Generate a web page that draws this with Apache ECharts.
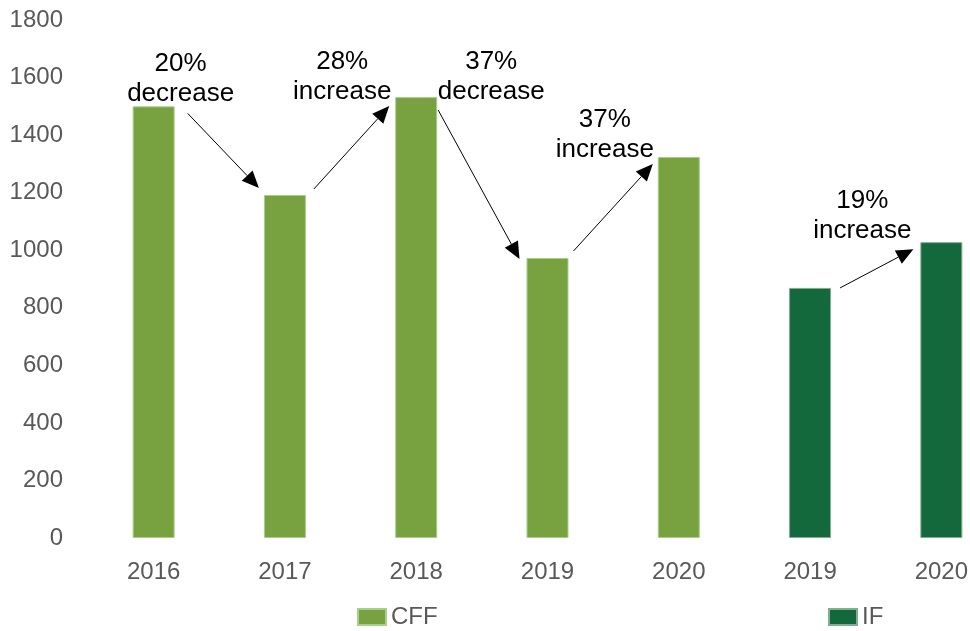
<!DOCTYPE html>
<html>
<head>
<meta charset="utf-8">
<script src="https://cdn.jsdelivr.net/npm/echarts@6/dist/echarts.min.js"></script>
<style>html,body{margin:0;padding:0;background:#fff}#c{width:970px;height:631px}</style>
</head>
<body>
<div id="c"></div>
<script>
const categories = ['2016', '2017', '2018', '2019', '2020', '2019', '2020'];
const cffValues = [1500, 1192, 1532, 973, 1324, null, null];
const ifValues = [null, null, null, null, null, 869, 1028];
const yTicks = { min: 0, max: 1800, interval: 200 };
const changeLabels = ['20%\ndecrease', '28%\nincrease', '37%\ndecrease', '37%\nincrease', '19%\nincrease'];
const changePairs = [[0, 1], [1, 2], [2, 3], [3, 4], [5, 6]];

// pixel offsets (styling) relative to bar-top centers
const arrowStyle = [
  { s: [34, 7], e: [-26, -7], t: [27, -28], tb: 0 },
  { s: [29, -6], e: [-27, 9], t: [-74, -20], tb: 1 },
  { s: [22, 13], e: [-28, 1], t: [75, -20], tb: 0 },
  { s: [26, -7], e: [-26, 7], t: [-74, -22], tb: 1 },
  { s: [30, 0], e: [-28, 7], t: [-79, -26], tb: 1 }
];

const chart = echarts.init(document.getElementById('c'));
const font = '"Liberation Sans", Arial, sans-serif';
chart.setOption({
  animation: false,
  grid: { left: 88, right: -37, top: 20, bottom: 93, containLabel: false, outerBoundsMode: 'none' },
  legend: [
    { data: ['CFF'], left: 352, top: 600, itemWidth: 28, itemHeight: 16, icon: 'rect', itemGap: 8,
      textStyle: { fontSize: 24, color: '#595959', fontFamily: font } },
    { data: ['IF'], left: 823, top: 600, itemWidth: 28, itemHeight: 16, icon: 'rect',
      textStyle: { fontSize: 24, color: '#595959', fontFamily: font } }
  ],
  xAxis: {
    type: 'category', data: categories,
    axisLine: { show: false }, axisTick: { show: false },
    axisLabel: { fontSize: 24, color: '#595959', fontFamily: font, margin: 22 }
  },
  yAxis: {
    type: 'value', min: yTicks.min, max: yTicks.max, interval: yTicks.interval,
    splitLine: { show: false }, axisLine: { show: false }, axisTick: { show: false },
    axisLabel: { fontSize: 24, color: '#595959', fontFamily: font, margin: 25,
      formatter: v => String(v) }
  },
  series: [
    { name: 'CFF', type: 'bar', data: cffValues, barWidth: 42, barGap: '-100%',
      itemStyle: { color: '#78a240', borderColor: '#a9cf8a', borderWidth: 1 } },
    { name: 'IF', type: 'bar', data: ifValues, barWidth: 42, barGap: '-100%',
      itemStyle: { color: '#13683c', borderColor: '#7fae92', borderWidth: 1 } }
  ]
});

function barTop(i) {
  const v = cffValues[i] != null ? cffValues[i] : ifValues[i];
  return chart.convertToPixel({ xAxisIndex: 0, yAxisIndex: 0 }, [i, v]);
}

const graphics = [];
changePairs.forEach((pair, k) => {
  const st = arrowStyle[k];
  const a = barTop(pair[0]);
  const b = barTop(pair[1]);
  const x1 = a[0] + st.s[0], y1 = a[1] + st.s[1];
  const x2 = b[0] + st.e[0], y2 = b[1] + st.e[1];
  const dx = x2 - x1, dy = y2 - y1;
  const len = Math.sqrt(dx * dx + dy * dy);
  const ux = dx / len, uy = dy / len;
  const hl = 17, hw = 7.5;
  const bx = x2 - ux * hl, by = y2 - uy * hl;
  graphics.push({
    type: 'line', shape: { x1: x1, y1: y1, x2: bx, y2: by },
    style: { stroke: '#000', lineWidth: 1 }, z: 10
  });
  graphics.push({
    type: 'polygon',
    shape: { points: [[x2, y2], [bx - uy * hw, by + ux * hw], [bx + uy * hw, by - ux * hw]] },
    style: { fill: '#000' }, z: 10
  });
  const tb = st.tb === 0 ? a : b;
  graphics.push({
    type: 'text', x: tb[0] + st.t[0], y: tb[1] + st.t[1], z: 10,
    style: {
      text: changeLabels[k], fill: '#000', fontSize: 26, fontFamily: font,
      align: 'center', verticalAlign: 'middle', lineHeight: 30
    }
  });
});
chart.setOption({ graphic: graphics });
</script>
</body>
</html>
